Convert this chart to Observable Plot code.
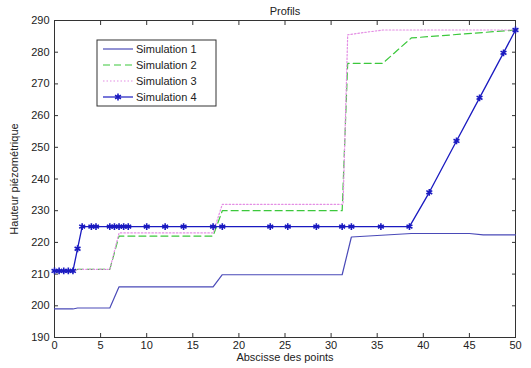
<!DOCTYPE html>
<html>
<head>
<meta charset="utf-8">
<script src="https://cdn.jsdelivr.net/npm/d3@7"></script>
<script src="https://cdn.jsdelivr.net/npm/@observablehq/plot@0.6"></script>
<style>
  html, body { margin: 0; padding: 0; background: #fff; }
  #chart { position: relative; width: 531px; height: 368px; }
  svg { font-family: "Liberation Sans", Arial, sans-serif; }
</style>
</head>
<body>
<div id="chart"></div>
<script>
// ---- data ----
const seriesNames = ["Simulation 1", "Simulation 2", "Simulation 3", "Simulation 4"];
const x1 = [0, 2, 2.5, 6, 7, 17.2, 18.2, 31.2, 32.2, 38.7, 45, 46.5, 50];
const y1 = [199, 199, 199.3, 199.3, 206, 206, 209.8, 209.8, 221.7, 222.8, 222.8, 222.4, 222.4];
const x2 = [0, 2, 2.5, 6, 7, 17.2, 18.2, 31.2, 31.8, 35.6, 38.7, 50];
const y2 = [211, 211, 211.5, 211.5, 222, 222, 230, 230, 276.5, 276.5, 284.5, 287];
const x3 = [0, 2, 2.5, 6, 7, 17.2, 18.2, 31.3, 31.8, 35.6, 50];
const y3 = [211, 211, 211.5, 211.5, 223, 223, 232, 232, 285.5, 287, 287];
const x4 = [0, 0.5, 1, 1.5, 2, 2.5, 3, 4, 4.5, 6, 6.5, 7, 7.5, 8, 10, 12, 14, 17.2, 18.2, 23.4, 25.3, 28.4, 31.2, 32.2, 35.4, 38.5, 40.65, 43.6, 46.1, 48.7, 50];
const y4 = [211, 211, 211, 211, 211, 218, 225, 225, 225, 225, 225, 225, 225, 225, 225, 225, 225, 225, 225, 225, 225, 225, 225, 225, 225, 225, 235.8, 252, 265.6, 279.8, 287];
const xTicks = [0, 5, 10, 15, 20, 25, 30, 35, 40, 45, 50];
const yTicks = [190, 200, 210, 220, 230, 240, 250, 260, 270, 280, 290];
const titleText = "Profils";
const xLabel = "Abscisse des points";
const yLabel = "Hauteur piézométrique";

const colors = ["#4a4ab8", "#3cc83c", "#e48ee4", "#1a1ac0"];
const dashes = [null, "7,4", "1.5,2", null];

const pts = (xs, ys) => xs.map((x, i) => ({x, y: ys[i]}));
const s1 = pts(x1, y1), s2 = pts(x2, y2), s3 = pts(x3, y3), s4 = pts(x4, y4);

const chart = Plot.plot({
  width: 531,
  height: 368,
  marginLeft: 54,
  marginRight: 16,
  marginTop: 20,
  marginBottom: 31,
  style: {fontSize: "11px", fontFamily: "Liberation Sans, Arial, sans-serif", color: "#222", background: "#fff"},
  x: {domain: [0, 50], ticks: xTicks},
  y: {domain: [190, 290], ticks: yTicks},
  marks: [
    Plot.frame({stroke: "#333", strokeWidth: 1}),
    Plot.axisX({anchor: "bottom", ticks: xTicks, tickSize: -4, text: null, label: null, stroke: "#333"}),
    Plot.axisX({anchor: "top", ticks: xTicks, tickSize: -4, text: null, label: null, stroke: "#333"}),
    Plot.axisY({anchor: "left", ticks: yTicks, tickSize: -4, text: null, label: null, stroke: "#333"}),
    Plot.axisY({anchor: "right", ticks: yTicks, tickSize: -4, text: null, label: null, stroke: "#333"}),
    Plot.axisX({anchor: "bottom", ticks: xTicks, tickSize: 0, tickPadding: 4, fill: "#222", label: xLabel, labelArrow: "none", labelAnchor: "center", labelOffset: 23}),
    Plot.axisY({anchor: "left", ticks: yTicks, tickSize: 0, tickPadding: 5, fill: "#222", label: yLabel, labelArrow: "none", labelAnchor: "center", labelOffset: 44}),
    Plot.line(s1, {x: "x", y: "y", stroke: colors[0], strokeWidth: 1.2}),
    Plot.line(s2, {x: "x", y: "y", stroke: colors[1], strokeWidth: 1.2, strokeDasharray: dashes[1]}),
    Plot.line(s3, {x: "x", y: "y", stroke: colors[2], strokeWidth: 1.2, strokeDasharray: dashes[2]}),
    Plot.line(s4, {x: "x", y: "y", stroke: colors[3], strokeWidth: 1.3}),
    Plot.dot(s4, {x: "x", y: "y", symbol: "asterisk", r: 3.2, stroke: colors[3], strokeWidth: 1.6}),
    Plot.text([titleText], {frameAnchor: "top", dy: -13, fontSize: 11, fill: "#222"})
  ]
});
document.getElementById("chart").appendChild(chart);

// ---- legend (inside the plot frame, top-left) ----
const svg = d3.select(chart);
const lg = svg.append("g").attr("transform", "translate(97,40)");
lg.append("rect").attr("width", 119).attr("height", 66).attr("fill", "#fff").attr("stroke", "#333");
seriesNames.forEach((name, i) => {
  const yy = 9 + i * 16;
  const g = lg.append("g").attr("transform", `translate(0,${yy})`);
  g.append("line").attr("x1", 6).attr("x2", 36).attr("y1", 0).attr("y2", 0)
    .attr("stroke", colors[i]).attr("stroke-width", 1.2)
    .attr("stroke-dasharray", dashes[i]);
  if (i === 3) {
    g.append("path").attr("d", d3.symbol(d3.symbolAsterisk, Math.PI * 3.2 * 3.2)())
      .attr("transform", "translate(21,0)").attr("stroke", colors[3]).attr("stroke-width", 1.6).attr("fill", "none");
  }
  g.append("text").attr("x", 39).attr("y", 0).attr("dy", "0.35em")
    .attr("text-anchor", "start")
    .attr("font-size", 11).attr("fill", "#222").text(name);
});
</script>
</body>
</html>
